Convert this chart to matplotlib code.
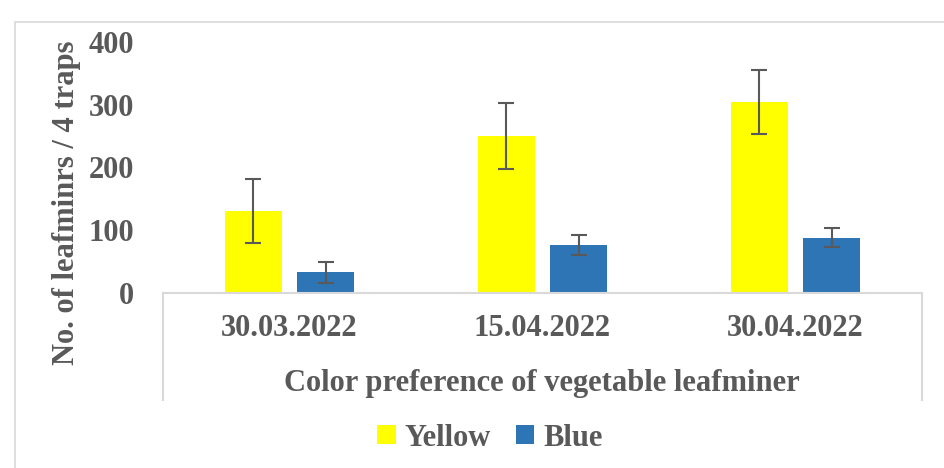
import numpy as np
import matplotlib.pyplot as plt
from matplotlib.patches import Rectangle

dates = ['30.03.2022', '15.04.2022', '30.04.2022']
yellow = [130, 250, 305]
yellow_err = [51, 52, 51]
blue = [33, 77, 88]
blue_err = [17, 16, 15]

txt = '#595959'
plt.rcParams['font.family'] = ['Liberation Serif', 'DejaVu Serif']
plt.rcParams['font.weight'] = 'bold'
plt.rcParams['axes.labelweight'] = 'bold'

fig = plt.figure(figsize=(9.44, 4.68), dpi=100)
ax = fig.add_axes([163/944, 1-293/468, (922-163)/944, 251/468])

x = np.arange(len(dates))
w = 0.225
ekw = dict(ecolor=txt, elinewidth=1.5, capsize=5.5, capthick=1.5)
ax.bar(x - 0.144, yellow, w, color='#ffff00', yerr=yellow_err, error_kw=ekw, label='Yellow')
ax.bar(x + 0.144, blue, w, color='#2e75b6', yerr=blue_err, error_kw=ekw, label='Blue')

ax.set_xlim(-0.5, 2.5)
ax.set_ylim(0, 400)
ax.set_yticks([0, 100, 200, 300, 400])
ax.set_xticks(x)
ax.set_xticklabels(dates)
ax.tick_params(axis='both', length=0, labelsize=22, labelcolor=txt)
ax.tick_params(axis='y', pad=21)
ax.tick_params(axis='x', pad=15)
for s in ['top', 'right', 'left']:
    ax.spines[s].set_visible(False)
ax.spines['bottom'].set_color('#d9d9d9')
ax.spines['bottom'].set_linewidth(1.5)

# category box lines below the axis
depth = -107/251
for xa in [0, 1]:
    ax.plot([xa, xa], [0, depth], transform=ax.transAxes, color='#d9d9d9', lw=1.5, clip_on=False)

ax.set_ylabel('No. of leafminrs / 4 traps', fontsize=22, color=txt)
ax.yaxis.set_label_coords(-82/759, 0.36)
fig.text(542/944, 1-384/468, 'Color preference of vegetable leafminer', fontsize=22,
         color=txt, ha='center', va='center')

ax.legend(loc='center', bbox_to_anchor=(490/944, 1-438/468), bbox_transform=fig.transFigure,
          ncol=2, frameon=False, fontsize=22, labelcolor=txt, handlelength=0.6,
          handleheight=0.6, handletextpad=0.3, columnspacing=0.8)

fig.patches.append(Rectangle((15/944, -0.1), 1.2, 1 - 22/468 + 0.1, transform=fig.transFigure,
                             fill=False, edgecolor='#d9d9d9', lw=1.2))

fig.savefig('out.png', dpi=100)
